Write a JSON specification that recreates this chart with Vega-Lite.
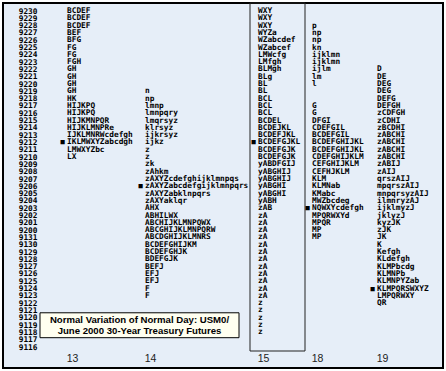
{
  "$schema": "https://vega.github.io/schema/vega-lite/v6.json",
  "width": 440,
  "height": 365,
  "padding": 3,
  "autosize": {"type": "none"},
  "background": "white",
  "config": {
    "view": {"stroke": "black", "strokeWidth": 2, "fill": "#e6eef8"}
  },
  "datasets": {
    "tpo": [
      {"d":13,"p":"9230","t":"BCDEF"},
      {"d":13,"p":"9229","t":"BCDEF"},
      {"d":13,"p":"9228","t":"BCDEF"},
      {"d":13,"p":"9227","t":"BEF"},
      {"d":13,"p":"9226","t":"BFG"},
      {"d":13,"p":"9225","t":"FG"},
      {"d":13,"p":"9224","t":"FG"},
      {"d":13,"p":"9223","t":"FGH"},
      {"d":13,"p":"9222","t":"GH"},
      {"d":13,"p":"9221","t":"GH"},
      {"d":13,"p":"9220","t":"GH"},
      {"d":13,"p":"9219","t":"GH"},
      {"d":13,"p":"9218","t":"HK"},
      {"d":13,"p":"9217","t":"HIJKPQ"},
      {"d":13,"p":"9216","t":"HIJKPQ"},
      {"d":13,"p":"9215","t":"HIJKMNPQR"},
      {"d":13,"p":"9214","t":"HIJKLMNPRe"},
      {"d":13,"p":"9213","t":"IJKLMNRWcdefgh"},
      {"d":13,"p":"9212","t":"IKLMWXYZabcdgh","m":1},
      {"d":13,"p":"9211","t":"LMWXYZbc"},
      {"d":13,"p":"9210","t":"LX"},
      {"d":14,"p":"9219","t":"n"},
      {"d":14,"p":"9218","t":"np"},
      {"d":14,"p":"9217","t":"lmnp"},
      {"d":14,"p":"9216","t":"lmnpqry"},
      {"d":14,"p":"9215","t":"lmqrsyz"},
      {"d":14,"p":"9214","t":"klrsyz"},
      {"d":14,"p":"9213","t":"ijkrsyz"},
      {"d":14,"p":"9212","t":"ijkz"},
      {"d":14,"p":"9211","t":"z"},
      {"d":14,"p":"9210","t":"z"},
      {"d":14,"p":"9209","t":"zk"},
      {"d":14,"p":"9208","t":"zAhkm"},
      {"d":14,"p":"9207","t":"zAXYZcdefghijklmnpqs"},
      {"d":14,"p":"9206","t":"zAXYZabcdefgijklmnpqrs","m":1},
      {"d":14,"p":"9205","t":"zAXYZabklnpqrs"},
      {"d":14,"p":"9204","t":"zAXYaklqr"},
      {"d":14,"p":"9203","t":"AHX"},
      {"d":14,"p":"9202","t":"ABHILWX"},
      {"d":14,"p":"9201","t":"ABCHIJKLMNPQWX"},
      {"d":14,"p":"9200","t":"ABCGHIJKLMNPQRW"},
      {"d":14,"p":"9131","t":"ABCDGHIJKLMNRS"},
      {"d":14,"p":"9130","t":"BCDEFGHIJKM"},
      {"d":14,"p":"9129","t":"BCDEFGHJK"},
      {"d":14,"p":"9128","t":"BDEFGJK"},
      {"d":14,"p":"9127","t":"BEFJ"},
      {"d":14,"p":"9126","t":"EFJ"},
      {"d":14,"p":"9125","t":"EFJ"},
      {"d":14,"p":"9124","t":"F"},
      {"d":14,"p":"9123","t":"F"},
      {"d":15,"p":"9230","t":"WXY"},
      {"d":15,"p":"9229","t":"WXY"},
      {"d":15,"p":"9228","t":"WXY"},
      {"d":15,"p":"9227","t":"WYZa"},
      {"d":15,"p":"9226","t":"WZabcdef"},
      {"d":15,"p":"9225","t":"WZabcef"},
      {"d":15,"p":"9224","t":"LMWcfg"},
      {"d":15,"p":"9223","t":"LMfgh"},
      {"d":15,"p":"9222","t":"BLMgh"},
      {"d":15,"p":"9221","t":"BLg"},
      {"d":15,"p":"9220","t":"BL"},
      {"d":15,"p":"9219","t":"BL"},
      {"d":15,"p":"9218","t":"BCL"},
      {"d":15,"p":"9217","t":"BCL"},
      {"d":15,"p":"9216","t":"BCL"},
      {"d":15,"p":"9215","t":"BCDEL"},
      {"d":15,"p":"9214","t":"BCDEJKL"},
      {"d":15,"p":"9213","t":"BCDEFJKL"},
      {"d":15,"p":"9212","t":"BCDEFGJKL","m":1},
      {"d":15,"p":"9211","t":"BCDEFGJK"},
      {"d":15,"p":"9210","t":"BCDEFGJK"},
      {"d":15,"p":"9209","t":"yABDFGIJ"},
      {"d":15,"p":"9208","t":"yABGHIJ"},
      {"d":15,"p":"9207","t":"yABGHIJ"},
      {"d":15,"p":"9206","t":"yABGHI"},
      {"d":15,"p":"9205","t":"yABGHI"},
      {"d":15,"p":"9204","t":"yABH"},
      {"d":15,"p":"9203","t":"zAB"},
      {"d":15,"p":"9202","t":"zA"},
      {"d":15,"p":"9201","t":"zA"},
      {"d":15,"p":"9200","t":"zA"},
      {"d":15,"p":"9131","t":"zA"},
      {"d":15,"p":"9130","t":"zA"},
      {"d":15,"p":"9129","t":"zA"},
      {"d":15,"p":"9128","t":"zA"},
      {"d":15,"p":"9127","t":"zA"},
      {"d":15,"p":"9126","t":"zA"},
      {"d":15,"p":"9125","t":"zA"},
      {"d":15,"p":"9124","t":"zA"},
      {"d":15,"p":"9123","t":"zA"},
      {"d":15,"p":"9122","t":"z"},
      {"d":15,"p":"9121","t":"z"},
      {"d":15,"p":"9120","t":"z"},
      {"d":15,"p":"9119","t":"z"},
      {"d":15,"p":"9118","t":"z"},
      {"d":18,"p":"9228","t":"p"},
      {"d":18,"p":"9227","t":"np"},
      {"d":18,"p":"9226","t":"np"},
      {"d":18,"p":"9225","t":"kn"},
      {"d":18,"p":"9224","t":"ijklmn"},
      {"d":18,"p":"9223","t":"ijklmn"},
      {"d":18,"p":"9222","t":"ijlm"},
      {"d":18,"p":"9221","t":"lm"},
      {"d":18,"p":"9220","t":"l"},
      {"d":18,"p":"9217","t":"G"},
      {"d":18,"p":"9216","t":"G"},
      {"d":18,"p":"9215","t":"DFGI"},
      {"d":18,"p":"9214","t":"CDEFGIL"},
      {"d":18,"p":"9213","t":"BCDEFGIL"},
      {"d":18,"p":"9212","t":"BCDEFGHIJKL"},
      {"d":18,"p":"9211","t":"BCDEFGHIJKL"},
      {"d":18,"p":"9210","t":"CDEFGHIJKLM"},
      {"d":18,"p":"9209","t":"CEFGHIJKLM"},
      {"d":18,"p":"9208","t":"CEFHJKLM"},
      {"d":18,"p":"9207","t":"KLM"},
      {"d":18,"p":"9206","t":"KLMNab"},
      {"d":18,"p":"9205","t":"KMabc"},
      {"d":18,"p":"9204","t":"MWZbcdeg"},
      {"d":18,"p":"9203","t":"NQWXYcdefgh","m":1},
      {"d":18,"p":"9202","t":"MPQRWXYd"},
      {"d":18,"p":"9201","t":"MPQR"},
      {"d":18,"p":"9200","t":"MP"},
      {"d":18,"p":"9131","t":"MP"},
      {"d":19,"p":"9222","t":"D"},
      {"d":19,"p":"9221","t":"DE"},
      {"d":19,"p":"9220","t":"DEG"},
      {"d":19,"p":"9219","t":"DEG"},
      {"d":19,"p":"9218","t":"DEFG"},
      {"d":19,"p":"9217","t":"DEFGH"},
      {"d":19,"p":"9216","t":"zCDFGH"},
      {"d":19,"p":"9215","t":"zCDHI"},
      {"d":19,"p":"9214","t":"zBCDHI"},
      {"d":19,"p":"9213","t":"zABCHI"},
      {"d":19,"p":"9212","t":"zABCHI"},
      {"d":19,"p":"9211","t":"zABCHI"},
      {"d":19,"p":"9210","t":"zABCHI"},
      {"d":19,"p":"9209","t":"zABIJ"},
      {"d":19,"p":"9208","t":"zAIJ"},
      {"d":19,"p":"9207","t":"qrszAIJ"},
      {"d":19,"p":"9206","t":"mpqrszAIJ"},
      {"d":19,"p":"9205","t":"mnpqrsyzAIJ"},
      {"d":19,"p":"9204","t":"ilmnryzAJ"},
      {"d":19,"p":"9203","t":"ijklmyzJ"},
      {"d":19,"p":"9202","t":"jklyzJ"},
      {"d":19,"p":"9201","t":"kyzJK"},
      {"d":19,"p":"9200","t":"zJK"},
      {"d":19,"p":"9131","t":"JK"},
      {"d":19,"p":"9130","t":"K"},
      {"d":19,"p":"9129","t":"Kefgh"},
      {"d":19,"p":"9128","t":"KLdefgh"},
      {"d":19,"p":"9127","t":"KLMPbcdg"},
      {"d":19,"p":"9126","t":"KLMNPb"},
      {"d":19,"p":"9125","t":"KLMNPYZab"},
      {"d":19,"p":"9124","t":"KLMPQRSWXYZ","m":1},
      {"d":19,"p":"9123","t":"LMPQRWXY"},
      {"d":19,"p":"9122","t":"QR"}
    ]
  },
  "layer": [
    {
      "data": {"values": [{}]},
      "mark": {"type": "rect", "fill": null, "fillOpacity": 0, "stroke": "#222222", "strokeWidth": 1, "xOffset": -8, "x2Offset": -7, "yOffset": -8, "y2Offset": 4},
      "encoding": {
        "x": {"datum": 15, "type": "quantitative"},
        "x2": {"datum": 18},
        "y": {"datum": "9230", "type": "ordinal"},
        "y2": {"datum": "9116"}
      }
    },
    {
      "data": {"name": "tpo"},
      "mark": {"type": "text", "align": "left", "baseline": "middle", "font": "DejaVu Sans Mono", "fontWeight": "bold", "fontSize": 7.8, "color": "black"},
      "encoding": {
        "x": {
          "field": "d", "type": "quantitative",
          "scale": {"type": "linear", "domain": [13, 14, 15, 18, 19], "range": [64, 142, 255, 309, 374], "zero": false, "nice": false, "clamp": false},
          "axis": {"orient": "bottom", "values": [13, 14, 15, 18, 19], "format": "d", "title": null, "grid": false, "domain": false, "ticks": false, "tickSize": 0, "labelPadding": 0, "labelBaseline": "middle", "labelOffset": 5, "offset": -10, "labelFont": "Liberation Sans", "labelFontSize": 10.5, "labelColor": "#222222", "labelFlush": false, "labelOverlap": false}
        },
        "y": {
          "field": "p", "type": "ordinal",
          "scale": {"type": "point", "domain": ["9230","9229","9228","9227","9226","9225","9224","9223","9222","9221","9220","9219","9218","9217","9216","9215","9214","9213","9212","9211","9210","9209","9208","9207","9206","9205","9204","9203","9202","9201","9200","9131","9130","9129","9128","9127","9126","9125","9124","9123","9122","9121","9120","9119","9118","9117","9116"], "range": [8, 344], "padding": 0},
          "axis": {"orient": "left", "title": null, "grid": false, "domain": false, "ticks": false, "tickSize": 0, "labelPadding": 0, "offset": -34, "labelAlign": "right", "labelBaseline": "middle", "labelFont": "DejaVu Sans Mono", "labelFontWeight": "bold", "labelFontSize": 7.8, "labelColor": "black", "labelOverlap": false, "labelBound": false}
        },
        "text": {"field": "t"}
      }
    },
    {
      "data": {"name": "tpo"},
      "transform": [{"filter": "datum.m == 1"}],
      "mark": {"type": "text", "align": "left", "baseline": "middle", "font": "DejaVu Sans Mono", "fontSize": 7, "dx": -6.5, "color": "black", "text": "■"},
      "encoding": {
        "x": {"field": "d", "type": "quantitative"},
        "y": {"field": "p", "type": "ordinal"}
      }
    },
    {
      "data": {"values": [{}]},
      "mark": {"type": "rect", "fill": "#fffff0", "stroke": "black", "strokeWidth": 1, "xOffset": -27, "x2Offset": -19, "yOffset": -5, "y2Offset": -2},
      "encoding": {
        "x": {"datum": 13, "type": "quantitative"},
        "x2": {"datum": 15},
        "y": {"datum": "9120", "type": "ordinal"},
        "y2": {"datum": "9117"}
      }
    },
    {
      "data": {"values": [{}]},
      "mark": {"type": "text", "align": "center", "baseline": "top", "font": "Liberation Sans", "fontWeight": "bold", "fontSize": 9.6, "lineHeight": 11, "color": "black", "xOffset": 72.5, "yOffset": -2.5, "text": ["Normal Variation of Normal Day: USM0/", "June 2000 30-Year Treasury Futures"]},
      "encoding": {
        "x": {"datum": 13, "type": "quantitative"},
        "y": {"datum": "9120", "type": "ordinal"}
      }
    }
  ]
}
